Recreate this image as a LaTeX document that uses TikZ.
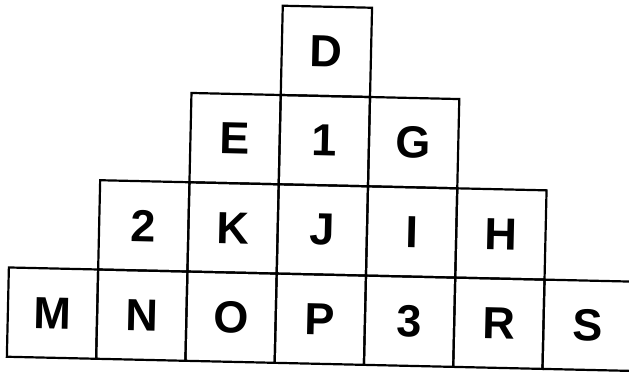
\documentclass[tikz,border=0pt]{standalone}
\usepackage{fontspec}
\setmainfont{Liberation Sans}
\begin{document}
\begin{tikzpicture}[x=1pt,y=-1pt]
\useasboundingbox (0,0) rectangle (629,379);
\clip (0,0) rectangle (629,379);
\tikzset{cell/.style={draw=black, line width=2.2pt, minimum size=89.3pt, inner sep=0pt,
  font=\fontsize{45}{45}\selectfont\bfseries, transform shape, anchor=center}}
\begin{scope}[rotate around={-1.3:(315,190)}]
% row 1
\node[cell] (D) at (323.25,51.15) {D};
% row 2
\node[cell] (E) at (233.95,140.45) {E};
\node[cell] (one) at (323.25,140.45) {1};
\node[cell] (G) at (412.55,140.45) {G};
% row 3
\node[cell] (two) at (144.65,229.75) {2};
\node[cell] (K) at (233.95,229.75) {K};
\node[cell] (J) at (323.25,229.75) {J};
\node[cell] (I) at (412.55,229.75) {I};
\node[cell] (H) at (501.85,229.75) {H};
% row 4
\node[cell] (M) at (55.35,319.05) {M};
\node[cell] (N) at (144.65,319.05) {N};
\node[cell] (O) at (233.95,319.05) {O};
\node[cell] (P) at (323.25,319.05) {P};
\node[cell] (three) at (412.55,319.05) {3};
\node[cell] (R) at (501.85,319.05) {R};
\node[cell] (S) at (591.15,319.05) {S};
\end{scope}
\end{tikzpicture}
\end{document}
